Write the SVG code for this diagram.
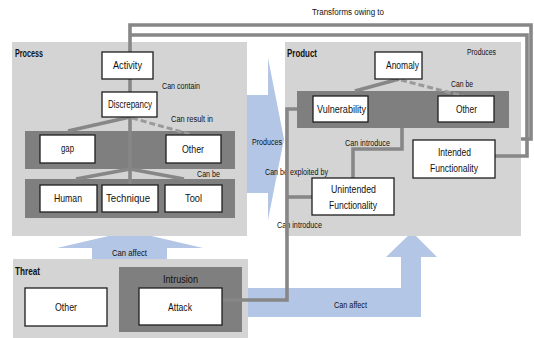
<svg xmlns="http://www.w3.org/2000/svg" width="534" height="338" viewBox="0 0 534 338">
  <style>
    .panel { fill: #d4d4d4; }
    .band { fill: #7f7f7f; }
    .box { fill: #ffffff; stroke: #1e1e1e; stroke-width: 1.3; }
    .flow { fill: #b3c6e5; }
    .wire { fill: none; stroke: #878787; stroke-width: 3.6; stroke-linejoin: miter; }
    .dash { fill: none; stroke: #9a9a9a; stroke-width: 3; stroke-dasharray: 6 3; }
    text { font-family: "Liberation Sans", Arial, sans-serif; fill: #111; }
    .t { font-size: 10.5px; }
    .h { font-size: 10.5px; font-weight: bold; }
    .l { font-size: 8.5px; }
  </style>

  <!-- wide flow arrows, drawn beneath the panels -->
  <g id="flows">
    <polygon class="flow" points="240,95 268,95 268,58 284,139 268,220 268,193 240,193"/>
    <polygon class="flow" points="92,262 92,248 57,248 130,231 203,248 167,248 167,262"/>
    <polygon class="flow" points="240,288 401,288 401,257 386,257 412,232 437,257 421,257 421,317 240,317"/>
  </g>

  <!-- Process -->
  <g id="process">
    <rect class="panel" x="12" y="42" width="235" height="194"/>
    <text class="h" x="15" y="57" textLength="28" lengthAdjust="spacingAndGlyphs">Process</text>
    <rect class="band" x="25" y="131" width="210" height="38"/>
    <rect class="band" x="25" y="179" width="210" height="39"/>
  </g>

  <!-- Product -->
  <g id="product">
    <rect class="panel" x="285" y="42" width="236" height="194"/>
    <text class="h" x="287" y="57" textLength="30" lengthAdjust="spacingAndGlyphs">Product</text>
    <rect class="band" x="297" y="91" width="212" height="37"/>
  </g>

  <!-- Threat -->
  <g id="threat">
    <rect class="panel" x="13" y="259" width="235" height="79"/>
    <text class="h" x="15" y="275" textLength="25" lengthAdjust="spacingAndGlyphs">Threat</text>
  </g>

  <g id="intrusion">
    <rect class="band" x="119" y="267" width="123" height="65"/>
    <text class="t" x="163" y="283" textLength="35" lengthAdjust="spacingAndGlyphs">Intrusion</text>
  </g>

  <!-- relation labels -->
  <g id="labels" class="l">
    <text x="312" y="15" textLength="72" lengthAdjust="spacingAndGlyphs">Transforms owing to</text>
    <text x="162" y="89" textLength="38" lengthAdjust="spacingAndGlyphs">Can contain</text>
    <text x="171" y="122" textLength="42" lengthAdjust="spacingAndGlyphs">Can result in</text>
    <text x="197" y="177" textLength="23" lengthAdjust="spacingAndGlyphs">Can be</text>
    <text x="112" y="256" textLength="35" lengthAdjust="spacingAndGlyphs">Can affect</text>
    <text x="467" y="55" textLength="29" lengthAdjust="spacingAndGlyphs">Produces</text>
    <text x="451" y="87" textLength="22" lengthAdjust="spacingAndGlyphs">Can be</text>
    <text x="345" y="146" textLength="45" lengthAdjust="spacingAndGlyphs">Can introduce</text>
    <text x="252" y="145" textLength="30" lengthAdjust="spacingAndGlyphs">Produces</text>
    <text x="265" y="175" textLength="63" lengthAdjust="spacingAndGlyphs">Can be exploited by</text>
    <text x="277" y="228" textLength="45" lengthAdjust="spacingAndGlyphs">Can introduce</text>
    <text x="334" y="308" textLength="33" lengthAdjust="spacingAndGlyphs">Can affect</text>
  </g>

  <!-- connectors -->
  <g id="connectors">
    <polyline class="wire" points="130,52 130,25 531,25 531,139 521,139"/>
    <polyline class="wire" points="130,35 527,35 527,156 495,156"/>
    <line class="wire" x1="130" y1="79" x2="130" y2="92"/>
    <line class="wire" x1="130" y1="117" x2="130" y2="185"/>
    <line class="wire" x1="130" y1="117" x2="68" y2="131"/>
    <line class="dash" x1="132" y1="118" x2="193" y2="135"/>
    <line class="wire" x1="130" y1="169" x2="76" y2="179"/>
    <line class="wire" x1="130" y1="169" x2="184" y2="179"/>
    <line class="wire" x1="399" y1="79" x2="355" y2="91"/>
    <line class="dash" x1="401" y1="80" x2="463" y2="96"/>
    <polyline class="wire" points="402,128 402,149 353,149 353,178"/>
    <polyline class="wire" points="222,300 287,300 287,109 297,109"/>
    <line class="wire" x1="287" y1="197" x2="312" y2="197"/>
  </g>

  <!-- nodes -->
  <g id="activity">
    <rect class="box" x="102" y="52" width="51" height="27"/>
    <text class="t" x="113" y="69" textLength="29" lengthAdjust="spacingAndGlyphs">Activity</text>
  </g>
  <g id="discrepancy">
    <rect class="box" x="102" y="92" width="55" height="25"/>
    <text class="t" x="108" y="108" textLength="44" lengthAdjust="spacingAndGlyphs">Discrepancy</text>
  </g>
  <g id="gap">
    <rect class="box" x="40" y="135" width="55" height="28"/>
    <text class="t" x="61" y="152" textLength="13" lengthAdjust="spacingAndGlyphs">gap</text>
  </g>
  <g id="process-other">
    <rect class="box" x="166" y="135" width="55" height="28"/>
    <text class="t" x="182" y="152.5" textLength="22" lengthAdjust="spacingAndGlyphs">Other</text>
  </g>
  <g id="human">
    <rect class="box" x="40" y="185" width="57" height="27"/>
    <text class="t" x="54" y="202" textLength="28" lengthAdjust="spacingAndGlyphs">Human</text>
  </g>
  <g id="technique">
    <rect class="box" x="102" y="185" width="56" height="27"/>
    <text class="t" x="106" y="202" textLength="44" lengthAdjust="spacingAndGlyphs">Technique</text>
  </g>
  <g id="tool">
    <rect class="box" x="165" y="185" width="57" height="27"/>
    <text class="t" x="185" y="202" textLength="17" lengthAdjust="spacingAndGlyphs">Tool</text>
  </g>
  <g id="anomaly">
    <rect class="box" x="375" y="52" width="47" height="27"/>
    <text class="t" x="386" y="69" textLength="33" lengthAdjust="spacingAndGlyphs">Anomaly</text>
  </g>
  <g id="vulnerability">
    <rect class="box" x="313" y="96" width="55" height="26"/>
    <text class="t" x="317" y="112.5" textLength="49" lengthAdjust="spacingAndGlyphs">Vulnerability</text>
  </g>
  <g id="product-other">
    <rect class="box" x="438" y="96" width="56" height="26"/>
    <text class="t" x="456" y="112.5" textLength="21" lengthAdjust="spacingAndGlyphs">Other</text>
  </g>
  <g id="intended-functionality">
    <rect class="box" x="413" y="140" width="82" height="38"/>
    <text class="t" x="438" y="156" textLength="33" lengthAdjust="spacingAndGlyphs">Intended</text>
    <text class="t" x="430" y="172" textLength="48" lengthAdjust="spacingAndGlyphs">Functionality</text>
  </g>
  <g id="unintended-functionality">
    <rect class="box" x="312" y="178" width="82" height="37"/>
    <text class="t" x="331" y="193" textLength="45" lengthAdjust="spacingAndGlyphs">Unintended</text>
    <text class="t" x="329" y="209" textLength="48" lengthAdjust="spacingAndGlyphs">Functionality</text>
  </g>
  <g id="threat-other">
    <rect class="box" x="25" y="288" width="82" height="38"/>
    <text class="t" x="55" y="310.5" textLength="22" lengthAdjust="spacingAndGlyphs">Other</text>
  </g>
  <g id="attack">
    <rect class="box" x="139" y="288" width="83" height="37"/>
    <text class="t" x="168" y="310.5" textLength="24" lengthAdjust="spacingAndGlyphs">Attack</text>
  </g>
</svg>
